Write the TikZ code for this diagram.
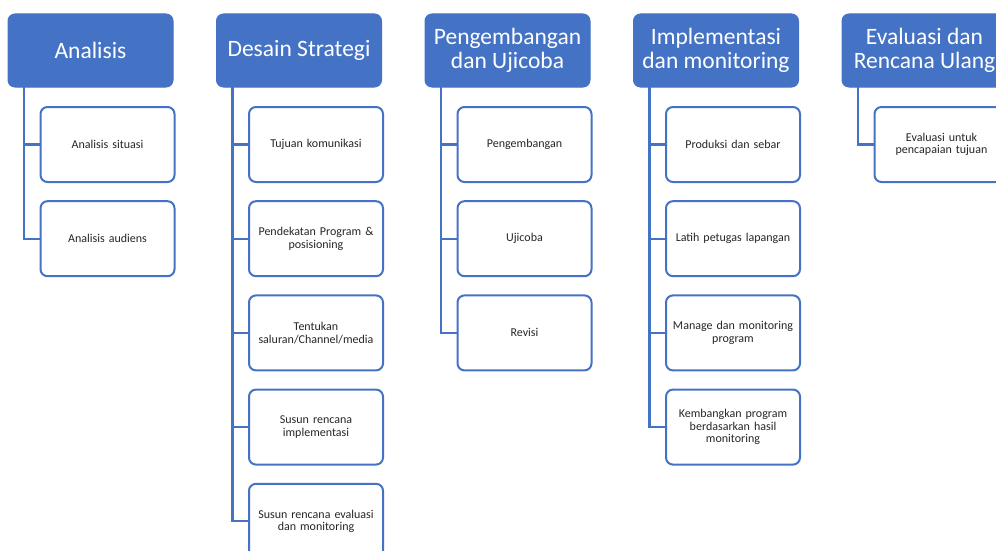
\documentclass[tikz,border=0pt]{standalone}
\usepackage{fontspec}
\setmainfont{Carlito}
\begin{document}
\begin{tikzpicture}[x=1pt,y=-1pt,
  hdr/.style={draw=hblue,fill=hblue,rounded corners=7pt,minimum width=165pt,minimum height=73pt,
    text=white,font=\fontsize{23.5}{24}\selectfont,align=center,inner sep=0pt,line width=1pt},
  kid/.style={draw=hblue,fill=white,rounded corners=7pt,minimum width=134pt,minimum height=75pt,
    text width=128pt,align=center,font=\fontsize{12}{12.5}\selectfont,text=black!85,inner sep=0pt,line width=2pt},
  conn/.style={draw=hblue,line width=2.3pt}]
\definecolor{hblue}{HTML}{4472C4}
\useasboundingbox (0,0) rectangle (996,551);
\clip (0,0) rectangle (996,551);
% headers
\node[hdr] (h1) at (90.5,50.5) {Analisis};
\node[hdr] (h2) at (299,50.5) {Desain Strategi};
\node[hdr] (h3) at (507.5,50.5) {Pengembangan\\dan Ujicoba};
\node[hdr] (h4) at (716,50.5) {Implementasi\\dan monitoring};
\node[hdr] (h5) at (924.5,50.5) {Evaluasi dan\\Rencana Ulang};
% connector start points
\coordinate (c1) at (24,87);
\coordinate (c2) at (232.5,87);
\coordinate (c3) at (441,87);
\coordinate (c4) at (649.5,87);
\coordinate (c5) at (858,87);
% children
\node[kid] (a1) at (107.5,144.5) {Analisis situasi};
\node[kid] (a2) at (107.5,238.7) {Analisis audiens};
\node[kid] (b1) at (316,144.5) {Tujuan komunikasi};
\node[kid] (b2) at (316,238.7) {Pendekatan Program \&\\posisioning};
\node[kid] (b3) at (316,332.9) {Tentukan\\saluran/Channel/media};
\node[kid] (b4) at (316,427.1) {Susun rencana\\implementasi};
\node[kid] (b5) at (316,521.3) {Susun rencana evaluasi\\dan monitoring};
\node[kid] (d1) at (524.5,144.5) {Pengembangan};
\node[kid] (d2) at (524.5,238.7) {Ujicoba};
\node[kid] (d3) at (524.5,332.9) {Revisi};
\node[kid] (e1) at (733,144.5) {Produksi dan sebar};
\node[kid] (e2) at (733,238.7) {Latih petugas lapangan};
\node[kid] (e3) at (733,332.9) {Manage dan monitoring\\program};
\node[kid] (e4) at (733,427.1) {Kembangkan program\\berdasarkan hasil\\monitoring};
\node[kid] (f1) at (941.5,144.5) {Evaluasi untuk\\pencapaian tujuan};
% connectors
\foreach \k in {a1,a2} \draw[conn] (c1) |- (\k.west);
\foreach \k in {b1,b2,b3,b4,b5} \draw[conn] (c2) |- (\k.west);
\foreach \k in {d1,d2,d3} \draw[conn] (c3) |- (\k.west);
\foreach \k in {e1,e2,e3,e4} \draw[conn] (c4) |- (\k.west);
\foreach \k in {f1} \draw[conn] (c5) |- (\k.west);
\end{tikzpicture}
\end{document}
